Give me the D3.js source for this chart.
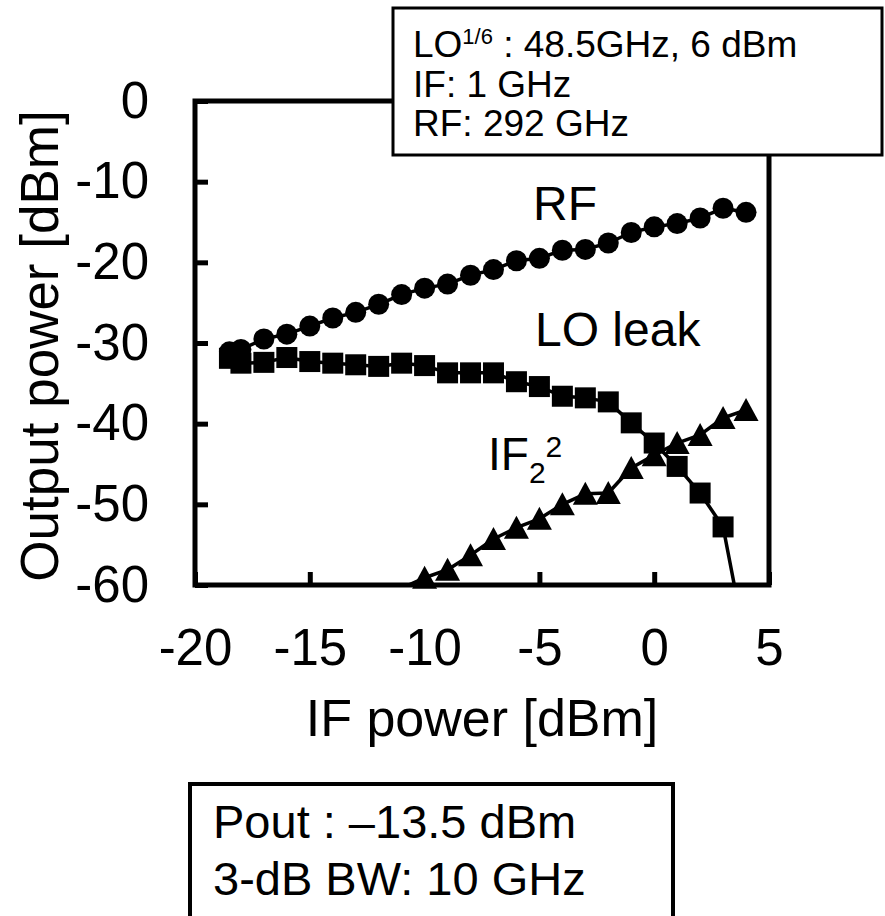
<!DOCTYPE html>
<html><head><meta charset="utf-8">
<script src="https://cdn.jsdelivr.net/npm/d3@7/dist/d3.min.js"></script>
<style>
body{margin:0;background:#fff}
text{font-family:"Liberation Sans",Arial,Helvetica,sans-serif;fill:#000}
</style>
</head><body>
<svg id="chart" width="885" height="916"></svg>
<script>
// ---- data ----
const ifPower = [-18.5,-18,-17,-16,-15,-14,-13,-12,-11,-10,-9,-8,-7,-6,-5,-4,-3,-2,-1,0,1,2,3,4];
const rfOut   = [-31.1,-30.8,-29.5,-28.9,-27.9,-26.9,-26.2,-25.2,-24.0,-23.2,-22.7,-21.6,
                 -20.9,-19.8,-19.5,-18.5,-18.4,-17.6,-16.3,-15.6,-15.2,-14.5,-13.3,-13.8];
const loLeak  = [-31.9,-32.5,-32.4,-31.8,-32.3,-32.5,-32.7,-32.9,-32.5,-32.8,-33.7,-33.7,
                 -33.7,-34.8,-35.4,-36.6,-36.8,-37.3,-39.9,-42.4,-45.3,-48.6,-52.8,-67.5];
const if2Power = [-11,-10,-9,-8,-7,-6,-5,-4,-3,-2,-1,0,1,2,3,4];
const if2Out   = [-60.4,-59.1,-58.1,-56.3,-54.3,-52.9,-51.8,-50.0,-48.7,-48.6,-45.5,-43.9,-42.4,-41.4,-39.3,-38.3];
const xTicks = [-20,-15,-10,-5,0,5];
const yTicks = [0,-10,-20,-30,-40,-50,-60];
const xTitle = "IF power [dBm]";
const yTitle = "Output power [dBm]";
const specLines = ["Pout : \u201313.5 dBm","3-dB BW: 10 GHz"];

// ---- layout ----
const svg = d3.select("#chart");
const L = 195, R = 769, T = 101, B = 585;
const x = d3.scaleLinear().domain([-20,5]).range([L,R]);
const y = d3.scaleLinear().domain([-60,0]).range([B,T]);

svg.append("defs").append("clipPath").attr("id","plotclip")
  .append("rect").attr("x",L).attr("y",T).attr("width",R-L).attr("height",B-T);

// axes
const yAxis = svg.append("g").attr("transform",`translate(${L},0)`)
  .call(d3.axisLeft(y).tickValues(yTicks).tickFormat(d3.format("d")).tickSize(-13).tickPadding(46));
const xAxis = svg.append("g").attr("transform",`translate(0,${B})`)
  .call(d3.axisBottom(x).tickValues(xTicks).tickFormat(d3.format("d")).tickSize(-13).tickPadding(44));
[yAxis,xAxis].forEach(g=>{
  g.select(".domain").remove();
  g.selectAll(".tick line").attr("stroke","#000").attr("stroke-width",5);
  g.selectAll(".tick text").attr("font-size",51).attr("font-family","'Liberation Sans',Arial,sans-serif").attr("fill","#000");
});
svg.selectAll(".tick text").text(function(){ return d3.select(this).text().replace("\u2212","-"); });

// frame
svg.append("rect").attr("x",L).attr("y",T).attr("width",R-L).attr("height",B-T)
  .attr("fill","none").attr("stroke","#000").attr("stroke-width",5);

// series lines
const rfData = ifPower.map((p,i)=>({x:p,y:rfOut[i]}));
const loData = ifPower.map((p,i)=>({x:p,y:loLeak[i]}));
const ifData = if2Power.map((p,i)=>({x:p,y:if2Out[i]}));
const line = d3.line().x(d=>x(d.x)).y(d=>y(d.y));
const gl = svg.append("g").attr("clip-path","url(#plotclip)");
[rfData,loData,ifData].forEach(dd=>{
  gl.append("path").datum(dd).attr("d",line).attr("fill","none")
    .attr("stroke","#000").attr("stroke-width",3.5).attr("stroke-linejoin","round");
});
const inRange = d=>d.y>=-60 && d.y<=0;
// markers
svg.append("g").selectAll("circle").data(rfData.filter(inRange)).join("circle")
  .attr("cx",d=>x(d.x)).attr("cy",d=>y(d.y)).attr("r",10.5).attr("fill","#000");
svg.append("g").selectAll("rect").data(loData.filter(inRange)).join("rect")
  .attr("x",d=>x(d.x)-10.5).attr("y",d=>y(d.y)-10.5).attr("width",21).attr("height",21).attr("fill","#000");
svg.append("g").selectAll("path").data(ifData.filter(inRange)).join("path")
  .attr("d",d=>{const cx=x(d.x), cy=y(d.y); return `M${cx},${cy-12}L${cx+12.5},${cy+11}L${cx-12.5},${cy+11}Z`;})
  .attr("fill","#000");

// series labels
svg.append("text").attr("x",565).attr("y",220).attr("text-anchor","middle").attr("font-size",48).text("RF");
svg.append("text").attr("x",535).attr("y",346).attr("font-size",48).text("LO leak");
const ift = svg.append("text").attr("x",488).attr("y",470).attr("font-size",46);
ift.append("tspan").text("IF");
ift.append("tspan").attr("font-size",30).attr("dy",13).text("2");
ift.append("tspan").attr("font-size",30).attr("dy",-26).text("2");

// axis titles
svg.append("text").attr("x",(L+R)/2).attr("y",736).attr("text-anchor","middle").attr("font-size",52).text(xTitle);
svg.append("text").attr("transform",`translate(58,346) rotate(-90)`).attr("text-anchor","middle").attr("font-size",53).text(yTitle);

// info box (top right)
svg.append("rect").attr("x",393).attr("y",8).attr("width",489).attr("height",147)
  .attr("fill","#fff").attr("stroke","#000").attr("stroke-width",3);
const t1 = svg.append("text").attr("x",413).attr("y",57).attr("font-size",37);
t1.append("tspan").text("LO");
t1.append("tspan").attr("font-size",22).attr("dy",-13).text("1/6");
t1.append("tspan").attr("dy",13).text(" : 48.5GHz, 6 dBm");
svg.append("text").attr("x",413).attr("y",97).attr("font-size",37).text("IF: 1 GHz");
svg.append("text").attr("x",413).attr("y",136).attr("font-size",37).text("RF: 292 GHz");

// spec box (bottom)
svg.append("rect").attr("x",190).attr("y",784).attr("width",483).attr("height",150)
  .attr("fill","#fff").attr("stroke","#000").attr("stroke-width",4);
specLines.forEach((s,i)=>{
  svg.append("text").attr("x",213).attr("y",838+i*57).attr("font-size",47).text(s);
});
</script>
</body></html>
